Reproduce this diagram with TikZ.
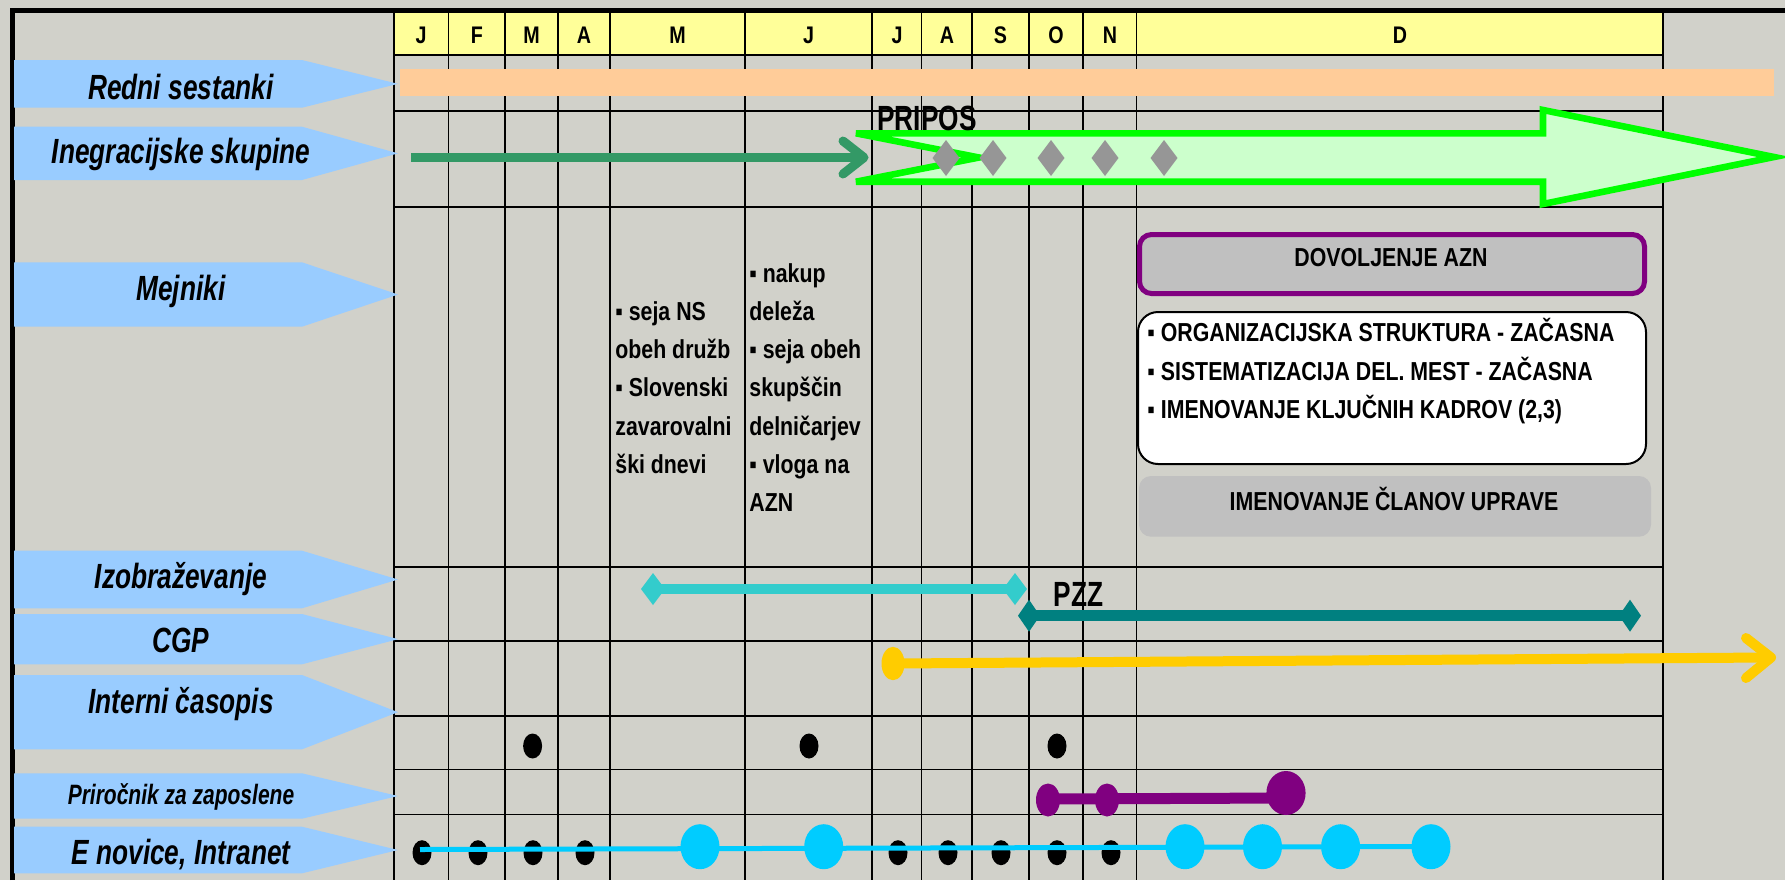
\documentclass[tikz,border=0pt]{standalone}
\usepackage{fontspec}
\setmainfont{Liberation Sans}
\newfontfamily\lblfont[FakeStretch=0.75]{Liberation Sans}
\newfontfamily\txtfont[FakeStretch=0.82]{Liberation Sans}

\definecolor{bggrey}{RGB}{209,209,202}
\definecolor{hdryellow}{HTML}{FFFF99}
\definecolor{lblblue}{HTML}{99CCFF}
\definecolor{barorange}{HTML}{FFCC99}
\definecolor{darkgreen}{HTML}{339966}
\definecolor{brightgreen}{HTML}{00FF00}
\definecolor{palegreen}{HTML}{CCFFCC}
\definecolor{gemgrey}{HTML}{969696}
\definecolor{boxgrey}{HTML}{C0C0C0}
\definecolor{aqua}{HTML}{33CCCC}
\definecolor{tealbar}{HTML}{008080}
\definecolor{gold}{HTML}{FFCC00}
\definecolor{plum}{HTML}{800080}
\definecolor{skyblue}{HTML}{00CCFF}

\tikzset{
  rowlabel/.style={font=\lblfont\bfseries\itshape\fontsize{#1}{20}\selectfont, anchor=base, inner sep=0pt},
  rowlabel/.default=17.5,
  month/.style={font=\txtfont\bfseries\fontsize{12}{14}\selectfont, anchor=base, inner sep=0pt},
  note/.style={font=\txtfont\bfseries\fontsize{13}{15}\selectfont, anchor=base west, inner sep=0pt},
  boxtext/.style={font=\txtfont\bfseries\fontsize{13}{15}\selectfont, anchor=base, inner sep=0pt},
  tag/.style={font=\lblfont\bfseries\fontsize{17.5}{20}\selectfont, anchor=base west, inner sep=0pt},
  dot/.style={x radius=4.75pt, y radius=6.25pt},
  bigdot/.style={x radius=9.75pt, y radius=11.25pt}
}

\begin{document}
\begin{tikzpicture}[x=0.5pt, y=-0.5pt]

\fill[bggrey] (0,0) rectangle (1785,880);
\useasboundingbox (0,0) rectangle (1785,880);

% months
\fill[hdryellow] (394,13) rectangle (1663,55);
\foreach \x/\m [count=\i] in {421/J, 477/F, 531.5/M, 584/A, 677.5/M, 808.5/J, 897/J, 947/A, 1000.5/S, 1056/O, 1110/N, 1400/D}
  \node[month] (m\i) at (\x,43.5) {\m};

% grid
\foreach \x in {394, 448.5, 505, 558, 610, 745, 872, 921.5, 972, 1029, 1083, 1136.5, 1663}
  \draw[line width=0.6pt] (\x,13) -- (\x,880);
\foreach \y in {55, 111, 207, 567, 641, 716, 769.3, 814.3}
  \draw[line width=0.6pt] (394,\y) -- (1663,\y);

\draw[line width=2.5pt] (12.5,880) -- (12.5,10.8) -- (1785,10.8);

% row labels
\foreach \t/\b/\base/\name/\fs/\txt in {60/107.7/99/redni/17.5/Redni sestanki,
    126.7/180/163/skupine/17.5/Inegracijske skupine,
    262.3/326.7/300/mejniki/17.5/Mejniki,
    550.7/608.3/588/izobr/17.5/Izobraževanje,
    614/664.3/652/cgp/17.5/CGP,
    675/749.3/713/casopis/17.5/Interni časopis,
    773.3/818.7/804/prirocnik/14/Priročnik za zaposlene,
    826.7/873.3/864/enovice/17.5/{E novice, Intranet}} {
  \fill[lblblue] (14,\t) -- (302,\t) -- (398,{(\t+\b)/2}) -- (302,\b) -- (14,\b) -- cycle;
  \node[rowlabel=\fs] (\name) at (181,\base) {\txt};
}

% redni sestanki
\fill[barorange] (400,69.3) rectangle (1773.5,96);

% skupine, pripos
\draw[darkgreen, line width=4.3pt] (411,157.5) -- (862,157.5);
\draw[darkgreen, line width=4.5pt, line cap=round, line join=round] (843,141) -- (864,157.5) -- (843,174);
\draw[brightgreen, fill=palegreen, line width=3.3pt] (856,133.3) -- (1543,133.3) -- (1543,110)
  -- (1774,157) -- (1543,204) -- (1543,181.7) -- (856,181.7) -- (979,157.5) -- cycle;
\foreach \x in {946, 993, 1051, 1105, 1164}
  \fill[gemgrey] (\x,158) +(-13.5,0) -- +(0,-18) -- +(13.5,0) -- +(0,18) -- cycle;
\node[tag] (pripos) at (877,130) {PRIPOS};

% mejniki
\foreach \txt [count=\i] in {▪ seja NS, obeh družb, ▪ Slovenski, zavarovalni, ški dnevi}
  \node[note] (ns\i) at (615,{320.3+38.3*(\i-1)}) {\txt};
\foreach \txt [count=\i] in {▪ nakup, deleža, ▪ seja obeh, skupščin, delničarjev, ▪ vloga na, AZN}
  \node[note] (azn\i) at (749,{282+38.3*(\i-1)}) {\txt};

\draw[plum, line width=2.5pt, fill=boxgrey, rounded corners=6pt] (1139.5,234.5) rectangle (1644.5,293.5);
\node[boxtext] (dovoljenje) at (1391,266.7) {DOVOLJENJE AZN};
\draw[line width=1pt, fill=white, rounded corners=10pt] (1138,312) rectangle (1646,464);
\foreach \txt [count=\i] in {{▪ ORGANIZACIJSKA STRUKTURA - ZAČASNA}, {▪ SISTEMATIZACIJA DEL. MEST - ZAČASNA}, {▪ IMENOVANJE KLJUČNIH KADROV (2,3)}}
  \node[note] (org\i) at (1147,{341.7+38.3*(\i-1)}) {\txt};
\fill[boxgrey, rounded corners=6pt] (1139,476) rectangle (1651,536.7);
\node[boxtext] (uprava) at (1394,510) {IMENOVANJE ČLANOV UPRAVE};

% izobrazevanje, pzz
\draw[aqua, line width=5pt] (653,589) -- (1015,589);
\foreach \x in {653, 1015}
  \fill[aqua] (\x,589) +(-12,0) -- +(0,-16) -- +(12,0) -- +(0,16) -- cycle;
\draw[tealbar, line width=5.5pt] (1029,615.7) -- (1630,615.7);
\foreach \x in {1029, 1630}
  \fill[tealbar] (\x,615.7) +(-11,0) -- +(0,-16) -- +(11,0) -- +(0,16) -- cycle;
\node[tag] (pzz) at (1053.5,606.7) {PZZ};

% cgp
\draw[gold, line width=5pt] (893,663.5) -- (1768,657.5);
\draw[gold, line width=5pt, line cap=round, line join=round] (1746,638) -- (1771,657.5) -- (1746,678);
\fill[gold] (893,663.5) ellipse [x radius=5.75pt, y radius=8.35pt];

% casopis
\foreach \x in {532.6, 809, 1057}
  \fill (\x,746) ellipse [dot];

% prirocnik
\draw[plum, line width=5.5pt] (1048,799) -- (1286,798);
\foreach \x in {1048, 1107}
  \fill[plum] (\x,800) ellipse [x radius=6pt, y radius=8.25pt];
\fill[plum] (1286,793) ellipse [x radius=9.8pt, y radius=11pt];

% e novice
\foreach \x in {422, 478, 533, 585, 898, 948, 1001, 1057, 1111}
  \fill (\x,852.7) ellipse [dot];
\draw[skyblue, line width=2.5pt] (420,849.5) -- (1431,846.5);
\foreach \x in {700, 823.7, 1185, 1262.5, 1340.6, 1431}
  \fill[skyblue] (\x,846.7) ellipse [bigdot];

\end{tikzpicture}
\end{document}
